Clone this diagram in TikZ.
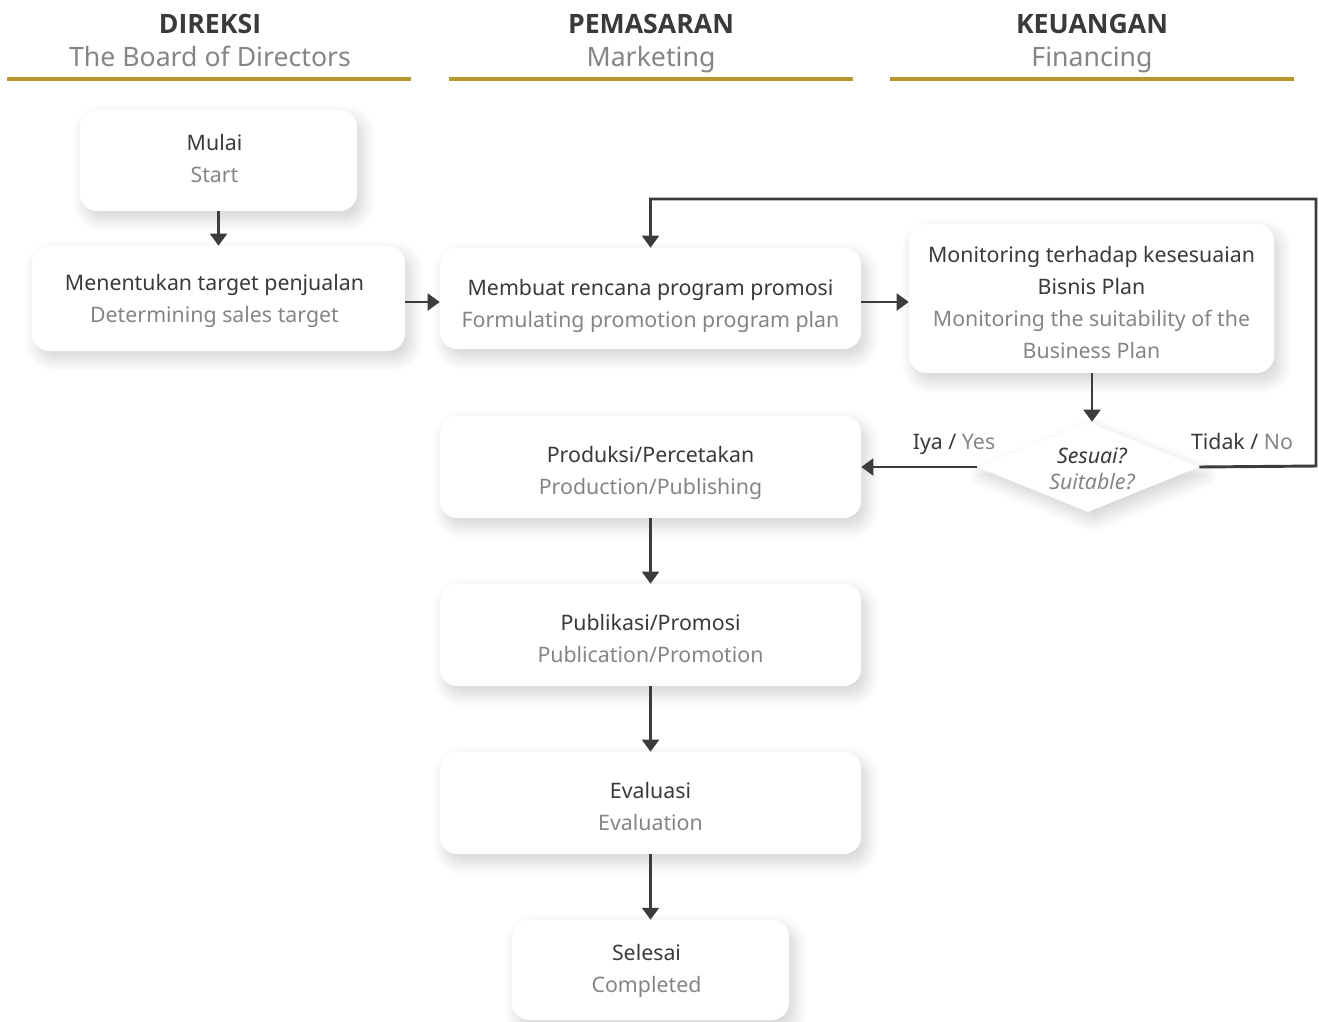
\documentclass[tikz,border=0pt]{standalone}
\usepackage{fontspec}
\setmainfont{Noto Sans}
\newfontfamily\headfont{Open Sans}
\usetikzlibrary{shapes.geometric,arrows.meta,shadows.blur}

\definecolor{ink}{HTML}{3A3A3A}
\definecolor{sub}{HTML}{858585}
\definecolor{gold}{HTML}{B8962E}
\definecolor{linec}{HTML}{3C3C3C}

% opening strut of a box text; the argument lowers the text block by half its value
\newcommand\txtdrop[1]{\rule{0pt}{\dimexpr 16.8pt+#1\relax}}
% invisible tail that moves a centred line slightly to the left
\newcommand\txtleft{\rule{6pt}{0pt}}

\begin{document}
\begin{tikzpicture}[x=0.75pt,y=-0.75pt,
  softshadow/.style={blur shadow={shadow xshift=4pt, shadow yshift=-6pt,
      shadow blur radius=10pt, shadow opacity=18, shadow blur steps=12}},
  box/.style={draw=none, fill=white, rounded corners=13pt, align=center,
      inner sep=0pt, text=ink, font=\fontsize{16}{24}\selectfont, softshadow},
  decision/.style={diamond, draw=none, fill=white, inner sep=0pt,
      minimum width=166.5pt, minimum height=67.5pt, softshadow},
  dtext/.style={align=center, inner sep=0pt, text=ink,
      font=\fontsize{16}{19.5}\selectfont\itshape},
  head/.style={align=center, inner sep=0pt, text=ink,
      font=\fontsize{20}{24.75}\selectfont},
  lbl/.style={inner sep=0pt, text=ink, font=\fontsize{16}{18}\selectfont},
  flow/.style={draw=linec, line width=2.2pt, -{Triangle[length=9pt,width=12.5pt]}},
  rule/.style={draw=gold, line width=3pt}]

\useasboundingbox (0,0) rectangle (1319,1021);

% column headers
\node[head] (hdir) at (210,43) {\strut{\headfont\bfseries DIREKSI}\\\textcolor{sub}{The Board of Directors}\strut};
\node[head] (hmkt) at (651,43) {\strut{\headfont\bfseries PEMASARAN}\\\textcolor{sub}{Marketing}\strut};
\node[head] (hfin) at (1092,43) {\strut{\headfont\bfseries KEUANGAN}\\\textcolor{sub}{Financing}\strut};
\draw[rule] (7,79) -- (411,79);
\draw[rule] (449,79) -- (853,79);
\draw[rule] (890,79) -- (1294,79);

% process steps
\node[box, minimum width=207.75pt, minimum height=75.75pt] (start) at (218.5,160.5)
  {\strut Mulai\txtleft\\\textcolor{sub}{Start}\txtleft\strut};
\node[box, minimum width=279.75pt, minimum height=78.75pt] (target) at (218.5,298.5)
  {\txtdrop{3pt}Menentukan target penjualan\txtleft\\\textcolor{sub}{Determining sales target}\txtleft\strut};
\node[box, minimum width=315.75pt, minimum height=75.75pt] (plan) at (650.5,298.5)
  {\txtdrop{10.5pt}Membuat rencana program promosi\\\textcolor{sub}{Formulating promotion program plan}\strut};
\node[box, minimum width=273.75pt, minimum height=111.75pt] (monitor) at (1091.5,298.5)
  {\txtdrop{9pt}Monitoring terhadap kesesuaian\\Bisnis Plan\\\textcolor{sub}{Monitoring the suitability of the}\\\textcolor{sub}{Business Plan}\strut};
\node[decision] (check) at (1088,467) {};
\node[dtext] (checktxt) at (1092,471) {\strut Sesuai?\\\textcolor{sub}{Suitable?}\strut};
\node[box, minimum width=315.75pt, minimum height=76.5pt] (prod) at (650.5,467)
  {\txtdrop{7.5pt}Produksi/Percetakan\\\textcolor{sub}{Production/Publishing}\strut};
\node[box, minimum width=315.75pt, minimum height=76.5pt] (pub) at (650.5,635)
  {\txtdrop{7.5pt}Publikasi/Promosi\\\textcolor{sub}{Publication/Promotion}\strut};
\node[box, minimum width=315.75pt, minimum height=76.5pt] (eval) at (650.5,803)
  {\txtdrop{7.5pt}Evaluasi\\\textcolor{sub}{Evaluation}\strut};
\node[box, minimum width=207.75pt, minimum height=75pt] (done) at (650.5,970)
  {\strut Selesai\txtleft\\\textcolor{sub}{Completed}\txtleft\strut};

% branch labels
\node[lbl] (yes) at (954,444) {Iya / \textcolor{sub}{Yes}};
\node[lbl] (no) at (1242,441) {Tidak / \textcolor{sub}{No}};

% connectors
\coordinate (loopA) at (1316,466);
\coordinate (loopB) at (1316,199);
\coordinate (loopC) at (650.5,199);

\draw[flow] (start) -- (target);
\draw[flow] (target.east |- 0,302) -- (plan.west |- 0,302);
\draw[flow] (plan.east |- 0,302) -- (monitor.west |- 0,302);
\draw[flow] (monitor.south -| checktxt) -- (check.north -| checktxt);
\draw[flow] (check.west) -- (prod.east |- check.west);
\draw[flow] (check.east) -- (loopA) -- (loopB) -- (loopC) -- (plan.north);
\draw[flow] (prod) -- (pub);
\draw[flow] (pub) -- (eval);
\draw[flow] (eval) -- (done);
\end{tikzpicture}
\end{document}
